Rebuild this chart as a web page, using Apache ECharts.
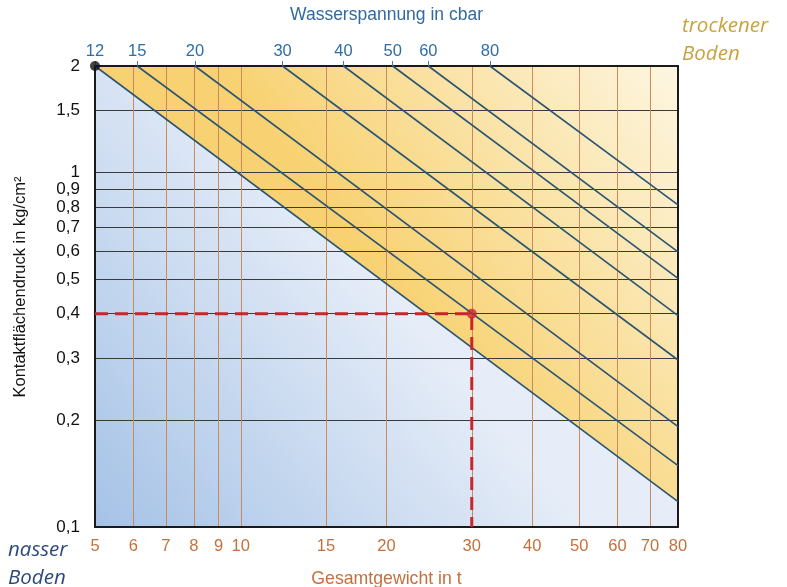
<!DOCTYPE html>
<html><head><meta charset="utf-8">
<script src="https://cdn.jsdelivr.net/npm/echarts@6/dist/echarts.min.js"></script>
<style>html,body{margin:0;padding:0;background:#fff}#c{width:787px;height:587px}</style>
</head><body><div id="c"></div>
<script>
// Gesamtgewicht in t (bottom axis ticks)
const weightTicks = [5, 6, 7, 8, 9, 10, 15, 20, 30, 40, 50, 60, 70, 80];
// Kontaktflächendruck in kg/cm² (left axis ticks)
const pressureTicks = [0.1, 0.2, 0.3, 0.4, 0.5, 0.6, 0.7, 0.8, 0.9, 1, 1.5, 2];
// Wasserspannung in cbar (top labels, one diagonal line each)
const suctionLabels = ['12', '15', '20', '30', '40', '50', '60', '80'];
// weight (t) where each suction line meets p = 2 kg/cm²
const suctionStartWeight = [5, 6.11, 8.04, 12.2, 16.3, 20.6, 24.4, 32.7];
// pressure (kg/cm²) where each suction line meets 80 t
const suctionEndPressure = [0.118, 0.149, 0.192, 0.296, 0.395, 0.503, 0.598, 0.811];
// example reading
const exampleWeight = 30;
const examplePressure = 0.4;

const xMin = 5, xMax = 80, yMin = 0.1, yMax = 2;

const suctionLines = suctionLabels.map((l, i) => [[suctionStartWeight[i], yMax], [xMax, suctionEndPressure[i]]]);
const boundary = suctionLines[0];
const dryPoly = [boundary[0], [xMax, yMax], boundary[1]];
const wetPoly = [boundary[0], boundary[1], [xMax, yMin], [xMin, yMin]];

const fmtNum = v => String(parseFloat(Number(v).toPrecision(3))).replace('.', ',');
const topLabel = v => {
  let best = 0, d = Infinity;
  suctionStartWeight.forEach((w, i) => { const dd = Math.abs(Math.log(w) - Math.log(v)); if (dd < d) { d = dd; best = i; } });
  return suctionLabels[best];
};

const chart = echarts.init(document.getElementById('c'), null, { renderer: 'canvas' });
const FONT = 'Liberation Sans';

const series = [
  {
    type: 'custom', xAxisIndex: 0, yAxisIndex: 0, z: 1, silent: true,
    data: [[xMin, yMax]],
    renderItem: (params, api) => {
      const wet = wetPoly.map(p => api.coord(p));
      const dry = dryPoly.map(p => api.coord(p));
      const a = api.coord(boundary[0]), b = api.coord(boundary[1]);
      const tr = api.coord([xMax, yMax]), bl = api.coord([xMin, yMin]);
      const mid = [(a[0] + b[0]) / 2, (a[1] + b[1]) / 2];
      return {
        type: 'group', children: [
          { type: 'polygon', shape: { points: wet }, style: { fill: new echarts.graphic.LinearGradient(bl[0], bl[1], mid[0], mid[1], [{ offset: 0, color: '#a5c2e6' }, { offset: 1, color: '#e6edf8' }], true) } },
          { type: 'polygon', shape: { points: dry }, style: { fill: new echarts.graphic.LinearGradient(mid[0], mid[1], tr[0], tr[1], [{ offset: 0, color: '#f8d272' }, { offset: 1, color: '#fdf6e2' }], true) } }
        ]
      };
    }
  }
];
suctionLines.forEach((d, i) => series.push({
  type: 'line', name: suctionLabels[i] + ' cbar', data: d, symbol: 'none', silent: true, z: 5,
  lineStyle: { color: '#2c5572', width: 1.6 }
}));
series.push({
  type: 'line', data: [[xMin, examplePressure], [exampleWeight, examplePressure], [exampleWeight, yMin]],
  symbol: 'none', silent: true, z: 6,
  lineStyle: { color: '#c9262b', width: 3, type: [13, 7] }
});
series.push({
  type: 'scatter', data: [{ value: [suctionStartWeight[0], yMax], itemStyle: { color: '#111' } }, { value: [exampleWeight, examplePressure], itemStyle: { color: '#c9262b' } }],
  symbolSize: 10, silent: true, z: 7
});

chart.setOption({
  animation: false,
  backgroundColor: '#fff',
  grid: { left: 95, right: 109, top: 66, bottom: 60, outerBoundsMode: 'none', containLabel: false },
  xAxis: [
    {
      type: 'log', position: 'bottom', min: xMin, max: xMax, z: 3,
      name: 'Gesamtgewicht in t', nameLocation: 'middle', nameGap: 43,
      nameTextStyle: { color: '#c4703d', fontSize: 17.7, fontFamily: FONT },
      axisLine: { show: true, lineStyle: { color: '#1a1a1a', width: 2 } },
      axisTick: { show: false, customValues: weightTicks },
      axisLabel: { customValues: weightTicks, color: '#c4703d', fontSize: 16.5, fontFamily: FONT, margin: 11, formatter: v => fmtNum(v) },
      splitLine: { show: true, lineStyle: { color: '#c98a5c', width: 1 } }
    },
    {
      type: 'log', position: 'top', min: xMin, max: xMax, z: 3,
      name: 'Wasserspannung in cbar', nameLocation: 'middle', nameGap: 42,
      nameTextStyle: { color: '#2f6aa0', fontSize: 17.5, fontFamily: FONT },
      axisLine: { show: true, lineStyle: { color: '#1a1a1a', width: 2 } },
      axisTick: { show: true, customValues: suctionStartWeight, length: 5, lineStyle: { color: '#4a78a0', width: 1 } },
      axisLabel: { customValues: suctionStartWeight, color: '#2f6ea5', fontSize: 16.5, fontFamily: FONT, margin: 6, formatter: v => topLabel(v) },
      splitLine: { show: false }
    }
  ],
  yAxis: [
    {
      type: 'log', position: 'left', min: yMin, max: yMax, z: 3,
      axisLine: { show: true, lineStyle: { color: '#1a1a1a', width: 2 } },
      axisTick: { show: false, customValues: pressureTicks },
      axisLabel: { customValues: pressureTicks, color: '#111', fontSize: 17, fontFamily: FONT, margin: 15, formatter: v => fmtNum(v) },
      splitLine: { show: true, lineStyle: { color: '#3a3a3a', width: 1 } }
    },
    {
      type: 'log', position: 'right', min: yMin, max: yMax, z: 3,
      axisLine: { show: true, lineStyle: { color: '#1a1a1a', width: 2 } },
      axisTick: { show: false }, axisLabel: { show: false }, splitLine: { show: false }
    }
  ],
  graphic: [
    { type: 'text', x: 20, y: 287, rotation: Math.PI / 2, style: { text: 'Kontaktflächendruck in kg/cm²', fill: '#111', fontSize: 16.5, fontFamily: FONT, align: 'center', verticalAlign: 'middle' } },
    { type: 'text', left: 682, top: 12, style: { text: 'trockener\nBoden', fill: '#c9a23e', fontSize: 20.5, fontStyle: 'italic', fontFamily: 'Open Sans', lineHeight: 28 } },
    { type: 'text', left: 8, top: 536, style: { text: 'nasser\nBoden', fill: '#2c4b7c', fontSize: 20.5, fontStyle: 'italic', fontFamily: 'Open Sans', lineHeight: 28 } }
  ],
  series: series
});
</script></body></html>
